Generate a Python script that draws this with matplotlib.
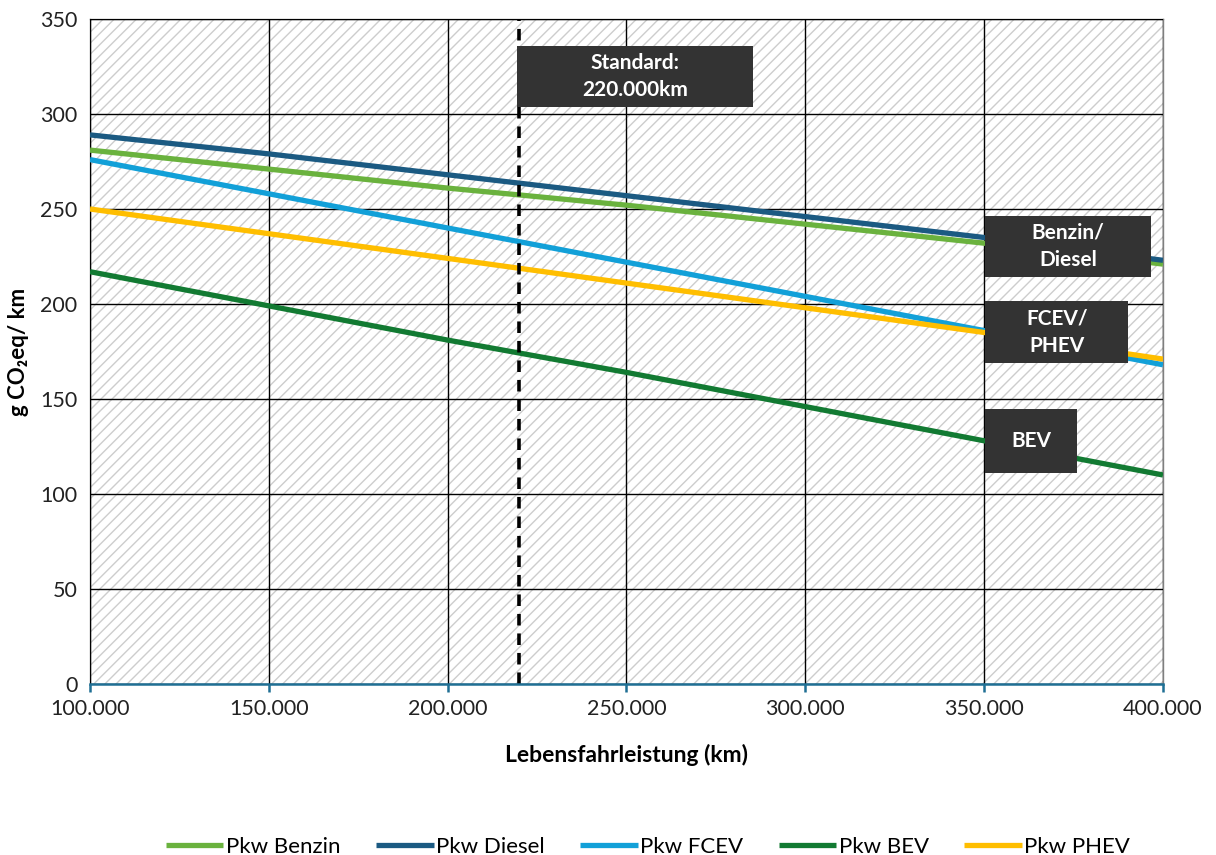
import matplotlib
matplotlib.use("Agg")
import matplotlib.pyplot as plt
from matplotlib.patches import Rectangle
from matplotlib.ticker import FuncFormatter, MultipleLocator

plt.rcParams['font.family'] = ['Lato', 'DejaVu Sans']

# Lifetime mileage (km)
mileage = [100000, 150000, 200000, 250000, 300000, 350000, 400000]

# Life-cycle emissions in g CO2eq per km
benzin = [281, 271, 261, 252, 242, 232, 221]
diesel = [289, 279, 268, 257, 246, 235, 223]
fcev = [276, 258, 240, 222, 204, 186, 168]
bev = [217, 199, 181, 164, 146, 128, 110]
phev = [250, 237, 224, 211, 198, 185, 171]

series_names = ["Pkw Benzin", "Pkw Diesel", "Pkw FCEV", "Pkw BEV", "Pkw PHEV"]
series_values = [benzin, diesel, fcev, bev, phev]
series_colors = ["#6ab23e", "#1b5a82", "#12a0d8", "#127a32", "#ffbe00"]

standard_km = 220000

fig = plt.figure(figsize=(12.16, 8.55), dpi=100)
ax = fig.add_axes([0.074, 0.2, 0.8824, 0.7778])

# hatched plot background
bg = Rectangle((0, 0), 1, 1, transform=ax.transAxes, facecolor="white",
               edgecolor="#cdcdcd", hatch="///", linewidth=0, zorder=0)
ax.add_patch(bg)
ax.patch.set_visible(False)

ax.set_xlim(100000, 400000)
ax.set_ylim(0, 350)
ax.xaxis.set_major_locator(MultipleLocator(50000))
ax.yaxis.set_major_locator(MultipleLocator(50))
ax.xaxis.set_major_formatter(FuncFormatter(lambda v, p: f"{int(v):,}".replace(",", ".")))
ax.grid(True, color="black", linewidth=1.0, zorder=1)
ax.set_axisbelow(False)

for name, vals, col in zip(series_names, series_values, series_colors):
    ax.plot(mileage, vals, color=col, linewidth=3.8, label=name, zorder=3,
            solid_capstyle="butt")

ax.axvline(standard_km, color="black", linestyle=(0, (3.2, 2.2)), linewidth=2.6, zorder=4)

for side in ["top", "right", "left"]:
    ax.spines[side].set_color("#7f7f7f")
    ax.spines[side].set_linewidth(1.0)
ax.spines["bottom"].set_color("#1f6f94")
ax.spines["bottom"].set_linewidth(1.8)
ax.spines["bottom"].set_zorder(5)

ax.tick_params(axis="y", length=0, labelsize=15.5, pad=9, labelcolor="#222222")
ax.tick_params(axis="x", length=6, width=1.8, color="#1f6f94", direction="out",
               labelsize=15.5, pad=5, labelcolor="#222222")

ax.set_xlabel("Lebensfahrleistung (km)", fontsize=16.5, fontweight="bold", labelpad=18)
ax.set_ylabel("g CO₂eq/ km", fontsize=16, fontweight="bold", labelpad=8)


def label_box(x0, x1, y0, y1, text):
    ax.add_patch(Rectangle((x0, y0), x1 - x0, y1 - y0, facecolor="#333333",
                           edgecolor="none", zorder=6))
    ax.text((x0 + x1) / 2, (y0 + y1) / 2, text, color="white", fontsize=15,
            fontweight="bold", ha="center", va="center", zorder=7, linespacing=1.45)


label_box(219400, 285400, 303.5, 336, "Standard:\n220.000km")
label_box(350300, 396600, 214, 246.5, "Benzin/\nDiesel")
label_box(350300, 390300, 169, 201.5, "FCEV/\nPHEV")
label_box(350300, 375900, 111, 144.5, "BEV")

ax.legend(loc="lower center", bbox_to_anchor=(0.52, -0.29), ncol=5, frameon=False,
          fontsize=16, handlelength=2.6, handletextpad=0.1, columnspacing=1.6)

fig.savefig("out.png", dpi=100)
